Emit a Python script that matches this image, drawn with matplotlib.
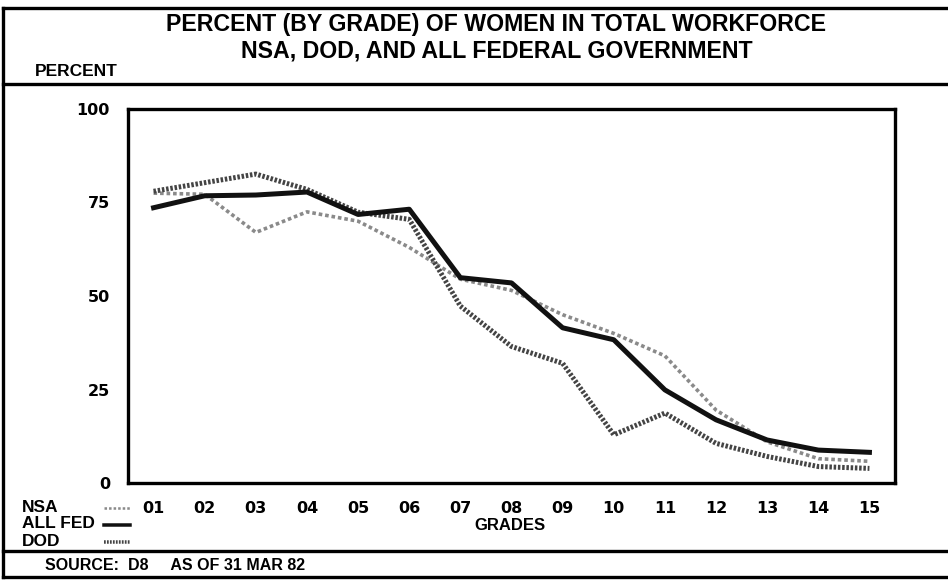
import matplotlib
matplotlib.use("Agg")
import matplotlib.pyplot as plt
from matplotlib.lines import Line2D

# ---- data ----
grades = ["01", "02", "03", "04", "05", "06", "07", "08",
          "09", "10", "11", "12", "13", "14", "15"]
nsa = [77.5, 77.2, 67.0, 72.5, 70.0, 63.0, 54.5, 51.5,
       45.0, 40.0, 34.0, 19.5, 11.0, 6.5, 5.8]
all_fed = [73.6, 76.8, 77.0, 77.8, 71.8, 73.2, 54.9, 53.5,
           41.5, 38.3, 24.9, 16.9, 11.5, 8.8, 8.2]
dod = [78.0, 80.3, 82.6, 78.5, 72.4, 70.5, 47.3, 36.5,
       32.0, 12.9, 18.7, 10.6, 7.1, 4.4, 3.9]
yticks = [0, 25, 50, 75, 100]

W, H = 948, 581
fig = plt.figure(figsize=(W / 100, H / 100), dpi=100)
fig.patch.set_facecolor("white")

def fx(px):
    return px / W

def fy(py):
    return 1 - py / H

ax = fig.add_axes([fx(128), fy(483), fx(895) - fx(128), fy(109) - fy(483)])
x = list(range(1, len(grades) + 1))

nsa_style = dict(color="#8a8a8a", lw=2.6, linestyle=(0, (1.0, 0.8)))
fed_style = dict(color="#111111", lw=3.6, linestyle="-")
dod_style = dict(color="#444444", lw=3.6, linestyle=(0, (0.5, 0.35)))

ax.plot(x, nsa, solid_capstyle="butt", **nsa_style)
ax.plot(x, dod, **dod_style)
ax.plot(x, all_fed, solid_joinstyle="round", **fed_style)

ax.set_xlim(0.5, 15.5)
ax.set_ylim(0, 100)
ax.set_xticks(x)
ax.set_xticklabels(grades)
ax.set_yticks(yticks)
ax.set_yticklabels([str(v) for v in yticks])
ax.tick_params(length=0)
ax.tick_params(axis="x", pad=13)
ax.tick_params(axis="y", pad=13)
for lab in ax.get_xticklabels() + ax.get_yticklabels():
    lab.set_fontfamily("DejaVu Sans")
    lab.set_fontweight("bold")
    lab.set_fontsize(11.5)
for sp in ax.spines.values():
    sp.set_linewidth(2.4)
    sp.set_color("black")

bold = dict(fontfamily=["Liberation Sans", "DejaVu Sans"], fontweight="bold", color="black")

# title
fig.text(fx(496), fy(25), "PERCENT (BY GRADE) OF WOMEN IN TOTAL WORKFORCE",
         ha="center", va="center", fontsize=16.7, **bold)
fig.text(fx(497), fy(51), "NSA, DOD, AND ALL FEDERAL GOVERNMENT",
         ha="center", va="center", fontsize=16.7, **bold)
fig.text(fx(35), fy(72), "PERCENT", ha="left", va="center", fontsize=12.5, **bold)

# x-axis title
fig.text(fx(510), fy(526), "GRADES", ha="center", va="center", fontsize=12, **bold)

# legend
leg_items = [("NSA", 507, nsa_style), ("ALL FED", 524, fed_style), ("DOD", 541, dod_style)]
for name, py, st in leg_items:
    fig.text(fx(22), fy(py), name, ha="left", va="center", fontsize=12.5, **bold)
    fig.add_artist(Line2D([fx(104), fx(130)], [fy(py + 1), fy(py + 1)],
                          transform=fig.transFigure, color=st["color"],
                          lw=st["lw"] * 0.7, linestyle=st["linestyle"]))

# source line
fig.text(fx(45), fy(565), "SOURCE:  D8     AS OF 31 MAR 82", ha="left", va="center",
         fontsize=11.5, **bold)

# outer frame and separators
frame_lw = 2.4
for (x0, y0, x1, y1) in [(3, 8, 948, 8), (3, 8, 3, 577), (3, 577, 948, 577),
                         (3, 84, 948, 84), (3, 551, 948, 551)]:
    fig.add_artist(Line2D([fx(x0), fx(x1)], [fy(y0), fy(y1)],
                          transform=fig.transFigure, color="black", lw=frame_lw))

fig.savefig("out.png", dpi=100, facecolor="white")
